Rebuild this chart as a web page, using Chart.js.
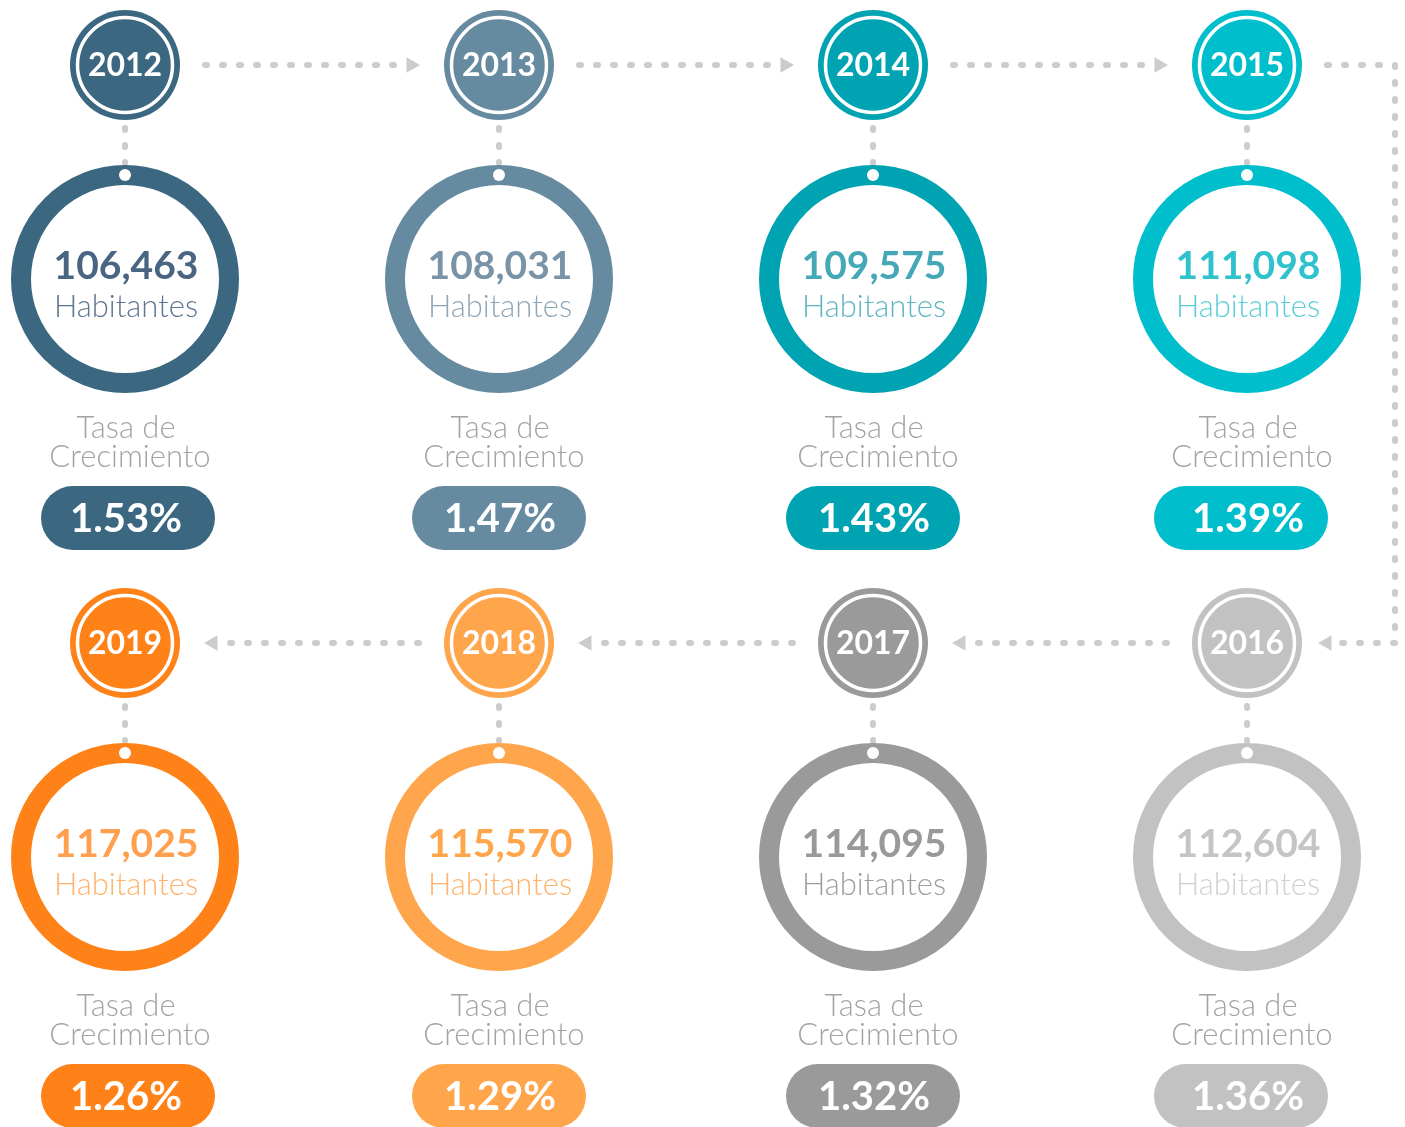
<!DOCTYPE html>
<html lang="es">
<head>
<meta charset="utf-8">
<title>Habitantes 2012-2019</title>
<script src="https://cdn.jsdelivr.net/npm/chart.js@4.4.1/dist/chart.umd.min.js"></script>
<style>
  html, body { margin: 0; padding: 0; background: #ffffff; }
  #wrap { position: relative; width: 1405px; height: 1127px; }
</style>
</head>
<body>
<div id="wrap"><canvas id="poblacion"></canvas></div>
<script>
// Datos
const anios = ['2012', '2013', '2014', '2015', '2016', '2017', '2018', '2019'];
const habitantes = [106463, 108031, 109575, 111098, 112604, 114095, 115570, 117025];
const tasas = [1.53, 1.47, 1.43, 1.39, 1.36, 1.32, 1.29, 1.26];

// Colores por año
const colores = ['#3c6780', '#668aa0', '#00a3b1', '#00becb', '#c2c2c2', '#9a9a9a', '#ffa54c', '#ff8219'];
const coloresNumero = ['#4a6582', '#7993a7', '#44a8b6', '#2ec2cd', '#c5c5c5', '#999999', '#ffa54c', '#ffa04f'];
const coloresTexto = ['#5d7691', '#8fa6b7', '#5cb5c2', '#5acdd6', '#d0d0d0', '#9e9e9e', '#ffb36b', '#ffb26b'];
const gris = '#cccccc';
const grisTexto = '#a3a3a3';

// Disposición (en pixeles del lienzo, via escalas lineales 0..1405 / 0..1127)
const colX = [125, 499, 873, 1247];
const pastillaDx = [3, 0, 0, -6];
const FILA = 578;
const Y_ANIO = 65, Y_ANILLO = 279;
const R_ANIO = 55, R_ANILLO = 104;

function columna(i) { return i < 4 ? i : 7 - i; }
function fila(i) { return i < 4 ? 0 : 1; }
function px(i) { return colX[columna(i)]; }
function py(i, y) { return y + fila(i) * FILA; }

const puntosAnio = anios.map((a, i) => ({ x: px(i), y: py(i, Y_ANIO) }));
const puntosAnillo = anios.map((a, i) => ({ x: px(i), y: py(i, Y_ANILLO) }));
const puntosMarca = anios.map((a, i) => ({ x: px(i), y: py(i, Y_ANILLO - R_ANILLO) }));

// Conectores punteados
function linea(data) {
    return {
        type: 'scatter',
        data: data,
        showLine: true,
        borderColor: gris,
        borderWidth: 6,
        borderDash: [2, 15],
        borderCapStyle: 'round',
        pointRadius: 0,
        order: 6,
        clip: false
    };
}

const conectores = [];
const flechas = [];
const rotaciones = [];
for (let i = 0; i < 7; i++) {
    if (i === 3) continue;
    const y = py(i, Y_ANIO);
    const dir = fila(i) === 0 ? 1 : -1;
    const x0 = px(i) + dir * 80;
    const punta = px(i + 1) - dir * 79;
    conectores.push(linea([{ x: x0, y: y }, { x: punta - dir * 15, y: y }]));
    flechas.push({ x: punta - dir * 9, y: y });
    rotaciones.push(dir > 0 ? 90 : -90);
}
// vuelta del 2015 al 2016
conectores.push(linea([
    { x: px(3) + 80, y: py(3, Y_ANIO) },
    { x: 1395, y: py(3, Y_ANIO) },
    { x: 1395, y: py(4, Y_ANIO) },
    { x: px(4) + 86, y: py(4, Y_ANIO) }
]));
flechas.push({ x: px(4) + 80, y: py(4, Y_ANIO) });
rotaciones.push(-90);
// verticales
anios.forEach((a, i) => {
    conectores.push(linea([
        { x: px(i), y: py(i, Y_ANIO + R_ANIO + 8) },
        { x: px(i), y: py(i, Y_ANILLO - R_ANILLO - 12) }
    ]));
});

// Pastillas y textos
const textosPlugin = {
    id: 'textos',
    afterDatasetsDraw(chart) {
        const ctx = chart.ctx;
        const sx = chart.scales.x, sy = chart.scales.y;
        ctx.save();
        ctx.textAlign = 'center';
        ctx.textBaseline = 'middle';
        anios.forEach((anio, i) => {
            const x = sx.getPixelForValue(px(i));
            const Y = v => sy.getPixelForValue(py(i, v));

            ctx.fillStyle = '#ffffff';
            ctx.font = 'bold 32px Lato';
            ctx.fillText(anio, x, Y(Y_ANIO + 1));

            ctx.fillStyle = coloresNumero[i];
            ctx.font = 'bold 39px Lato';
            ctx.fillText(habitantes[i].toLocaleString('en-US'), x + 1, Y(266));
            ctx.fillStyle = coloresTexto[i];
            ctx.font = '300 31px Lato';
            ctx.fillText('Habitantes', x + 1, Y(307));

            ctx.fillStyle = grisTexto;
            ctx.fillText('Tasa de', x + 1, Y(428));
            ctx.fillText('Crecimiento', x + 5, Y(457));

            const xp = x + pastillaDx[columna(i)];
            ctx.fillStyle = colores[i];
            ctx.beginPath();
            ctx.roundRect(xp - 87, Y(486), 174, 64, 32);
            ctx.fill();
            ctx.fillStyle = '#ffffff';
            ctx.font = 'bold 40px Lato';
            ctx.fillText(tasas[i].toFixed(2) + '%', x + 1, Y(519));
        });
        ctx.restore();
    }
};

const ctx = document.getElementById('poblacion');
new Chart(ctx, {
    type: 'scatter',
    data: {
        datasets: [
            {
                label: 'marca',
                data: puntosMarca,
                pointRadius: 6,
                pointBackgroundColor: '#ffffff',
                pointBorderWidth: 0,
                order: 0
            },
            {
                label: 'anillo',
                data: puntosAnillo,
                pointRadius: R_ANILLO,
                pointBackgroundColor: '#ffffff',
                pointBorderColor: colores,
                pointBorderWidth: 20,
                order: 1
            },
            {
                label: 'aro anio',
                data: puntosAnio,
                pointRadius: 47.5,
                pointBackgroundColor: 'rgba(0,0,0,0)',
                pointBorderColor: '#ffffff',
                pointBorderWidth: 3.5,
                order: 2
            },
            {
                label: 'anio',
                data: puntosAnio,
                pointRadius: R_ANIO,
                pointBackgroundColor: colores,
                pointBorderWidth: 0,
                order: 3
            },
            {
                label: 'flechas',
                data: flechas,
                pointStyle: 'triangle',
                pointRadius: 9,
                pointRotation: rotaciones,
                pointBackgroundColor: gris,
                pointBorderWidth: 0,
                order: 5
            },
            ...conectores
        ]
    },
    options: {
        responsive: true,
        maintainAspectRatio: false,
        animation: false,
        events: [],
        layout: { padding: 0, autoPadding: false },
        scales: {
            x: { type: 'linear', min: 0, max: 1405, display: false },
            y: { type: 'linear', min: 0, max: 1127, reverse: true, display: false }
        },
        plugins: {
            legend: { display: false },
            tooltip: { enabled: false }
        },
        datasets: { scatter: { clip: false } }
    },
    plugins: [textosPlugin]
});
</script>
</body>
</html>
